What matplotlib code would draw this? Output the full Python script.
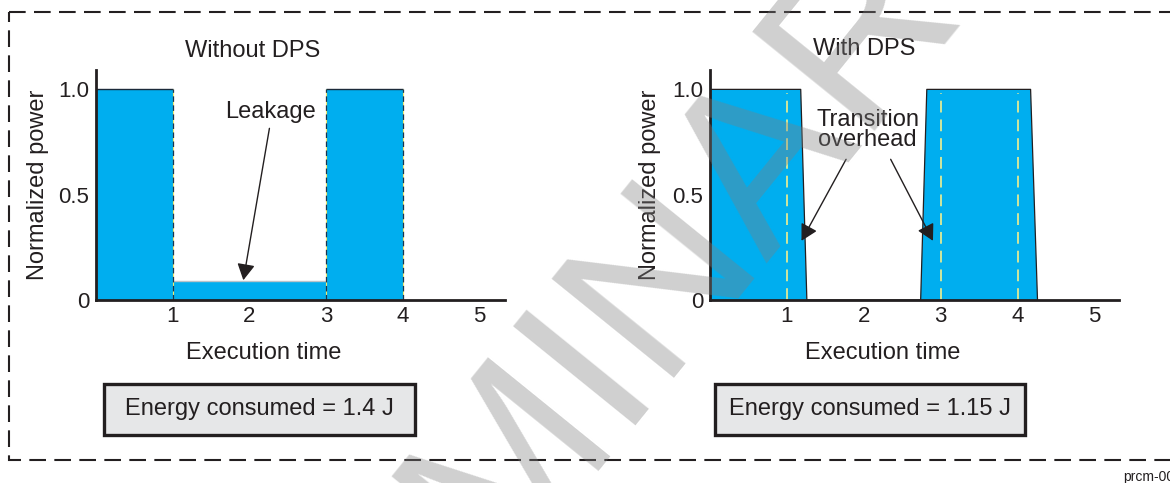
import matplotlib
matplotlib.use("Agg")
import matplotlib.pyplot as plt
from matplotlib.patches import Rectangle

plt.rcParams["font.family"] = ["Liberation Sans", "DejaVu Sans"]
plt.rcParams["lines.scale_dashes"] = False

# Data
time_ticks = [1, 2, 3, 4, 5]
power_ticks = [0, 0.5, 1.0]
power_labels = ["0", "0.5", "1.0"]

# Without DPS: active / leakage / active
nodps_start = [0, 1, 3]
nodps_width = [1, 2, 1]
nodps_power = [1.0, 0.09, 1.0]

# With DPS: outline of the two active periods, ramps included
dps_time = [0, 0, 1.18, 1.26, 2.74, 2.82, 4.17, 4.26]
dps_power = [0, 1, 1, 0, 0, 1, 1, 0]
dps_marks = [1, 3, 4]

energy = [1.4, 1.15]
titles = ["Without DPS", "With DPS"]

BLUE = "#00aeef"
INK = "#231f20"
W, H = 1170, 483

fig = plt.figure(figsize=(W / 100, H / 100), dpi=100)

# background layer in pixel coordinates: dashed frame and energy boxes
bg = fig.add_axes([0, 0, 1, 1])
bg.set_xlim(0, W)
bg.set_ylim(H, 0)
bg.axis("off")
bg.add_patch(Rectangle((8.5, 12), 1250, 448, fill=False, ec=INK, lw=1.5,
                       ls=(0, (12, 6))))
for (x0, x1), e in zip([(104, 415), (715, 1025)], energy):
    bg.add_patch(Rectangle((x0, 383.5), x1 - x0, 51, fc="#e6e7e8", ec=INK, lw=2.4))
    bg.text((x0 + x1) / 2, 415, f"Energy consumed = {e} J", ha="center",
            va="baseline", fontsize=17, color=INK)


def make_axes(x0, x1, xmax):
    ax = fig.add_axes([x0 / W, 1 - 300 / H, (x1 - x0) / W, 230 / H])
    ax.set_xlim(0, xmax)
    ax.set_ylim(0, 1.092)
    ax.patch.set_alpha(0)
    for s in ["top", "right"]:
        ax.spines[s].set_visible(False)
    for s in ["left", "bottom"]:
        ax.spines[s].set_linewidth(2)
        ax.spines[s].set_color(INK)
    ax.set_xticks(time_ticks)
    ax.set_yticks(power_ticks, power_labels)
    ax.tick_params(length=0, labelsize=16, labelcolor=INK)
    ax.tick_params(axis="y", pad=5)
    ax.tick_params(axis="x", pad=4.5)
    ax.set_xlabel("Execution time", fontsize=17, color=INK)
    ax.set_ylabel("Normalized power", fontsize=17, color=INK)
    ax.yaxis.label.set_va("center")
    return ax


arrow = dict(arrowstyle="-|>,head_length=0.55,head_width=0.3", color=INK,
             lw=1.0, mutation_scale=18, shrinkA=0, shrinkB=0)

# Left panel
ax1 = make_axes(96, 505, 5.33)
ax1.bar(nodps_start, nodps_power, width=nodps_width, align="edge",
        color=BLUE, ec="none")
ax1.hlines(nodps_power, nodps_start,
           [s + w for s, w in zip(nodps_start, nodps_width)],
           colors=["#1b2a3a", "#b9c3c9", "#1b2a3a"], lw=1)
ax1.vlines([1, 3, 4], 0, 1, colors="#f2ea6e", lw=0.8)
ax1.vlines([1, 3, 4], 0, 1, colors="#1b3550", lw=0.9, linestyles=(0, (4, 2.5)))
ax1.text(2.27, 0.864, "Leakage", ha="center", va="baseline", fontsize=17, color=INK)
ax1.annotate("", xy=(1.92, 0.094), xytext=(2.26, 0.815), arrowprops=arrow)
ax1.set_title(titles[0], x=0.384, y=1.0565, pad=0, fontsize=17, color=INK)
ax1.xaxis.set_label_coords(0.41, -0.2565)
ax1.xaxis.label.set_va("baseline")
ax1.yaxis.set_label_coords(-0.143, 0.5)

# Right panel
ax2 = make_axes(710, 1119, 5.32)
ax2.fill(dps_time, dps_power, color=BLUE, lw=0)
ax2.plot(dps_time, dps_power, color=INK, lw=0.9)
ax2.vlines(dps_marks, 0, 0.985, colors="#f3ef8e", lw=1.2, linestyles=(0, (8.5, 5)))
ax2.text(2.05, 0.807, "Transition\noverhead", ha="center", va="center",
         fontsize=17, color=INK, linespacing=0.85)
ax2.annotate("", xy=(1.19, 0.281), xytext=(1.77, 0.668), arrowprops=arrow)
ax2.annotate("", xy=(2.90, 0.281), xytext=(2.35, 0.668), arrowprops=arrow)
ax2.set_title(titles[1], x=0.376, y=1.065, pad=0, fontsize=17, color=INK)
ax2.xaxis.set_label_coords(0.423, -0.2565)
ax2.xaxis.label.set_va("baseline")
ax2.yaxis.set_label_coords(-0.1475, 0.5)

# watermark
fig.text(80 / W, 1 - 1090 / H, "PRELIMINARY", rotation=51, rotation_mode="anchor",
         ha="left", va="baseline", fontsize=165, color="#7f7f7f", alpha=0.37,
         zorder=10)

fig.text(1123 / W, 1 - 477 / H, "prcm-001", fontsize=10, va="center", color=INK)

fig.savefig("out.png", dpi=100)
